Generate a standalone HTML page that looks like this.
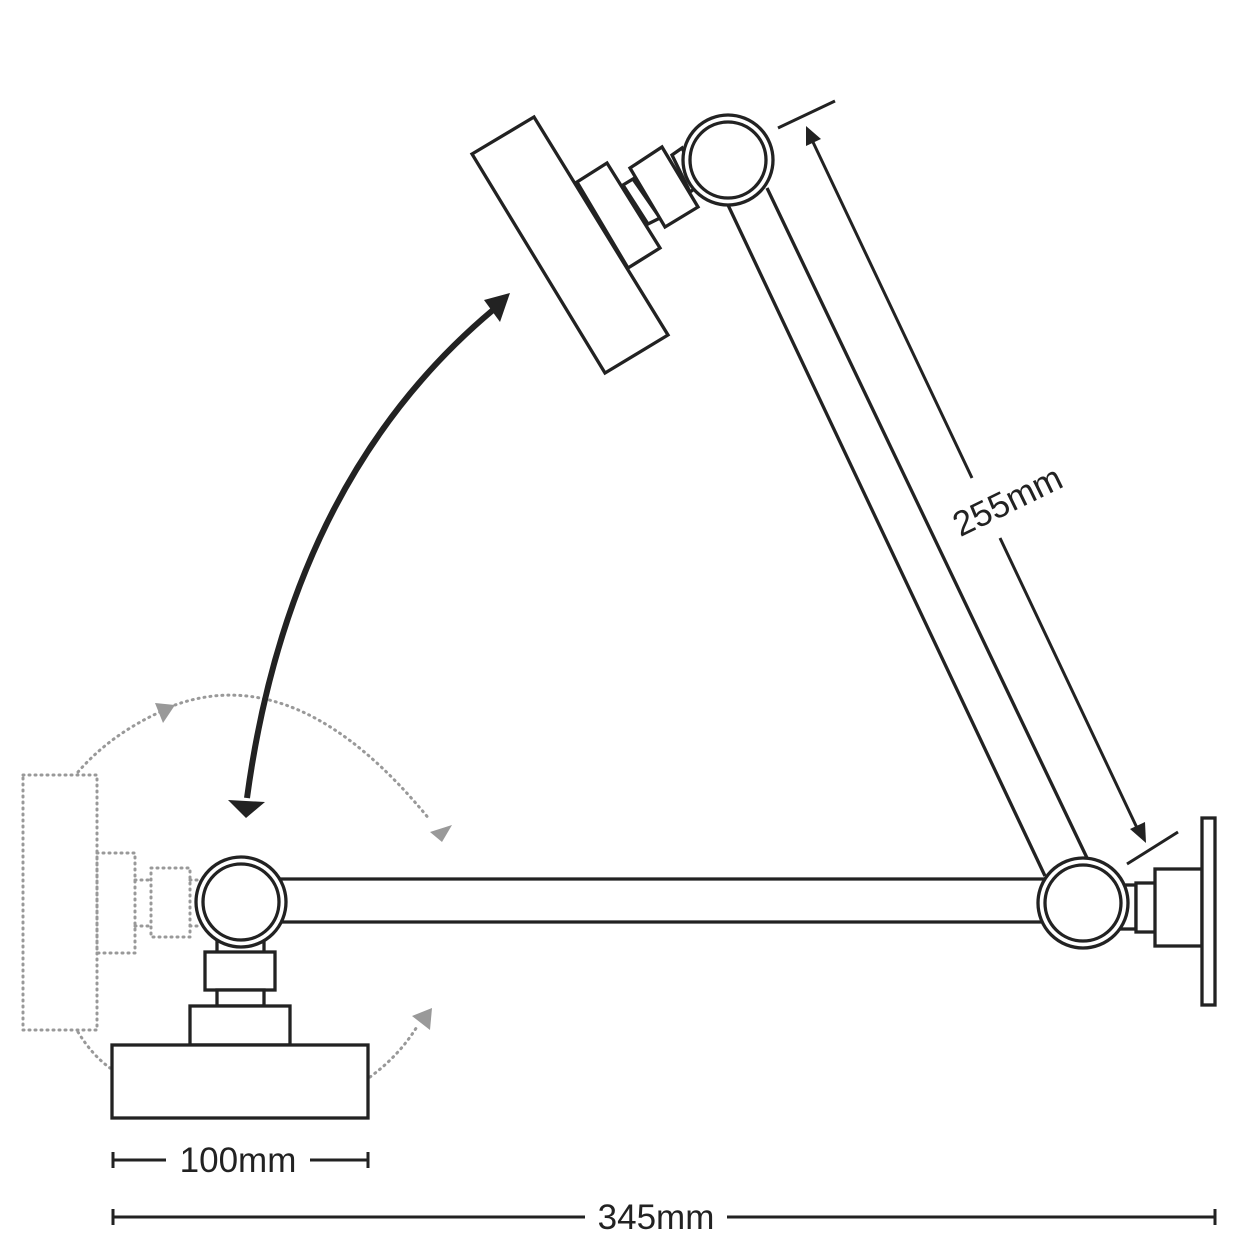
<!DOCTYPE html>
<html><head><style>html,body{margin:0;padding:0;background:#fff}</style></head>
<body>
<svg width="1250" height="1250" viewBox="0 0 1250 1250" xmlns="http://www.w3.org/2000/svg">
<g fill="none" stroke="#999" stroke-width="3" stroke-dasharray="1 5" stroke-linecap="round">
<rect x="23" y="775" width="74" height="255"/>
<rect x="97" y="853" width="38" height="100"/>
<rect x="151" y="868" width="39" height="69"/>
<line x1="135" y1="880" x2="151" y2="880"/><line x1="135" y1="926" x2="151" y2="926"/>
<line x1="190" y1="880" x2="198" y2="880"/><line x1="190" y1="926" x2="198" y2="926"/>
<path d="M78,772 Q110,735 160,712"/>
<path d="M175,705 Q300,660 430,820"/>
<path d="M78,1032 Q92,1055 110,1068"/>
<path d="M370,1077 Q400,1055 418,1025"/>
</g>
<g fill="#999">
<path d="M155,703 L175,705 L163,723z"/>
<path d="M430,832 L452,825 L442,842z"/>
<path d="M412,1016 L432,1008 L430,1030z"/>
</g>
<g fill="#fff" stroke="#222" stroke-width="3.3">
<line x1="280" y1="879" x2="1045" y2="879"/>
<line x1="280" y1="922" x2="1045" y2="922"/>
<line x1="728" y1="205" x2="1045" y2="876"/>
<line x1="767" y1="188" x2="1088" y2="860"/>
<rect x="217" y="940" width="47" height="13"/>
<rect x="205" y="952" width="70" height="38"/>
<rect x="217" y="990" width="47" height="16"/>
<rect x="190" y="1006" width="100" height="39"/>
<rect x="112" y="1045" width="256" height="73"/>
<rect x="1120" y="885" width="16" height="44"/>
<rect x="1136" y="883" width="21" height="49"/>
<rect x="1155" y="869" width="47" height="77"/>
<rect x="1202" y="818" width="13" height="187"/>
<polygon points="672,155 682,148 700,185 690,192"/>
<polygon points="472,154 534,117 668,335 605,373"/>
<polygon points="577,182 607,163 660,248 628,268"/>
<polygon points="623,185 633,179 660,218 648,224"/>
<polygon points="630,168 662,147 698,207 665,227"/>
<circle cx="241" cy="902" r="45"/><circle cx="241" cy="902" r="38"/>
<circle cx="1083" cy="903" r="45"/><circle cx="1083" cy="903" r="38"/>
<circle cx="728" cy="160" r="45"/><circle cx="728" cy="160" r="38"/>
</g>
<path d="M493,310 Q290,480 247,798" fill="none" stroke="#222" stroke-width="6"/>
<path d="M484,300 L510,293 L500,322z" fill="#222"/>
<path d="M228,800 L265,802 L246,818z" fill="#222"/>
<g stroke="#222" stroke-width="3" fill="none">
<line x1="778" y1="128" x2="835" y2="101"/>
<line x1="1127" y1="864" x2="1178" y2="832"/>
<line x1="812" y1="140" x2="972" y2="478"/>
<line x1="1000" y1="538" x2="1138" y2="830"/>
</g>
<path d="M806,126 L821,139 L806,146z" fill="#222"/>
<path d="M1146,843 L1145,822 L1130,829z" fill="#222"/>
<text x="1007" y="513" font-family="Liberation Sans, sans-serif" font-size="35" fill="#222" text-anchor="middle" transform="rotate(-26 1007 500)">255mm</text>
<g stroke="#222" stroke-width="3">
<line x1="113" y1="1160" x2="166" y2="1160"/><line x1="310" y1="1160" x2="368" y2="1160"/>
<line x1="113" y1="1152" x2="113" y2="1168"/><line x1="368" y1="1152" x2="368" y2="1168"/>
<line x1="113" y1="1217" x2="585" y2="1217"/><line x1="727" y1="1217" x2="1215" y2="1217"/>
<line x1="113" y1="1209" x2="113" y2="1225"/><line x1="1215" y1="1209" x2="1215" y2="1225"/>
</g>
<text x="238" y="1172" font-family="Liberation Sans, sans-serif" font-size="35" fill="#222" text-anchor="middle">100mm</text>
<text x="656" y="1229" font-family="Liberation Sans, sans-serif" font-size="35" fill="#222" text-anchor="middle">345mm</text>
</svg>
</body></html>
